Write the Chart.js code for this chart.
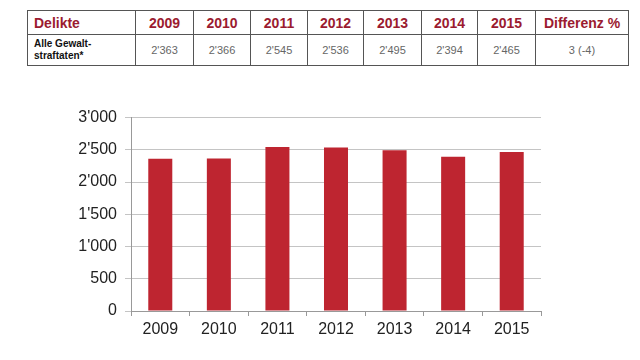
<!DOCTYPE html>
<html><head><meta charset="utf-8">
<script src="https://cdn.jsdelivr.net/npm/chart.js@4/dist/chart.umd.min.js"></script>
<style>
html,body{margin:0;padding:0;background:#fff;width:640px;height:360px;overflow:hidden;font-family:"Liberation Sans",Arial,sans-serif;}
table{position:absolute;left:27px;top:10px;border-collapse:collapse;table-layout:fixed;}
td{border:1px solid #555;padding:0 2px;white-space:nowrap;}
tr.h td{height:23px;color:#9b1b30;font-weight:bold;font-size:14px;text-align:center;}
tr.h td.first{text-align:left;padding-left:6px;}
tr.d td{height:30px;color:#666;font-size:11px;text-align:center;}
tr.d td.first{text-align:left;color:#111;font-weight:bold;font-size:10px;line-height:12px;padding-left:6px;}
#wrap{position:absolute;left:0;top:100px;width:640px;height:260px;}
</style></head>
<body>
<table id="tbl"></table>
<div id="wrap"><canvas id="c"></canvas></div>
<script>
const years = ["2009","2010","2011","2012","2013","2014","2015"];
const values = [2363, 2366, 2545, 2536, 2495, 2394, 2465];
const tableValues = ["2'363","2'366","2'545","2'536","2'495","2'394","2'465"];
const diffLabel = "Differenz %";
const diffValue = "3 (-4)";
const rowLabel = "Alle Gewalt-<br>straftaten*";
const headLabel = "Delikte";
const yTicks = [0, 500, 1000, 1500, 2000, 2500, 3000];

const colW = [108,58,57,57,56,58,56,58,93];
const tbl = document.getElementById('tbl');
let cg = '<colgroup>' + colW.map(w=>`<col style="width:${w}px">`).join('') + '</colgroup>';
let h = `<tr class="h"><td class="first">${headLabel}</td>` + years.map(y=>`<td>${y}</td>`).join('') + `<td>${diffLabel}</td></tr>`;
let d = `<tr class="d"><td class="first">${rowLabel}</td>` + tableValues.map(v=>`<td>${v}</td>`).join('') + `<td>${diffValue}</td></tr>`;
tbl.innerHTML = cg + h + d;

const fmt = v => {
  const s = String(v);
  return s.length > 3 ? s.slice(0, s.length-3) + "'" + s.slice(-3) : s;
};

new Chart(document.getElementById('c'), {
  type: 'bar',
  data: { labels: years, datasets: [{ data: values, backgroundColor: '#be2530', barPercentage: 0.82, categoryPercentage: 0.5 }] },
  options: {
    responsive: true, maintainAspectRatio: false, animation: false,
    layout: { padding: { left: 60, right: 99, top: 14, bottom: 19 } },
    plugins: { legend: { display: false }, tooltip: { enabled: false } },
    scales: {
      x: {
        grid: { display: true, drawOnChartArea: false, drawTicks: true, tickLength: 5, color: '#999', offset: true },
        border: { color: '#999' },
        ticks: { color: '#222', font: { family: 'Liberation Sans', size: 16 }, padding: 4 },
        afterFit: a => { a.height = 30; }
      },
      y: {
        min: 0, max: 3000,
        afterBuildTicks: a => { a.ticks = yTicks.map(v => ({ value: v })); },
        grid: { color: '#c4c4c4', tickLength: 6 },
        border: { color: '#999' },
        ticks: { color: '#222', font: { family: 'Liberation Sans', size: 16 }, padding: 8, callback: v => fmt(v) },
        afterFit: a => { a.width = 71; }
      }
    }
  }
});
</script>
</body></html>
